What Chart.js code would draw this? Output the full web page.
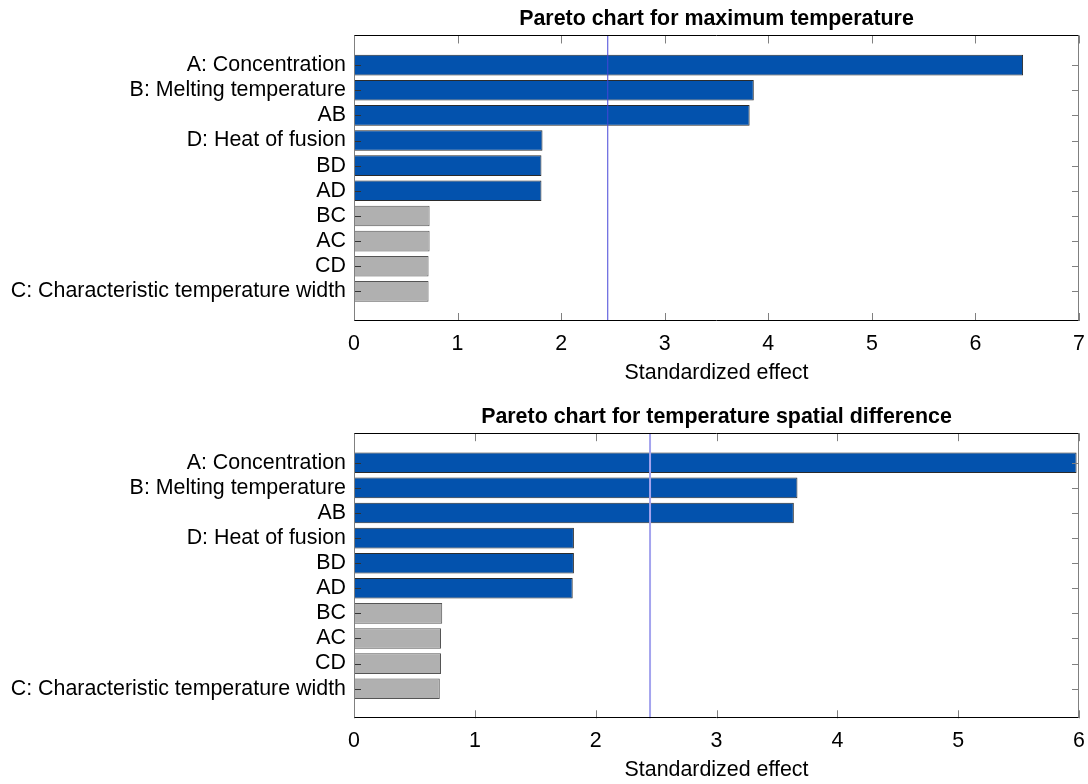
<!DOCTYPE html>
<html>
<head>
<meta charset="utf-8">
<script src="https://cdn.jsdelivr.net/npm/chart.js@4/dist/chart.umd.min.js"></script>
<style>
  body { margin: 0; background: #fff; }
  .panel { position: absolute; left: 0; width: 1088px; height: 392px; }
</style>
</head>
<body>
<div class="panel" style="top:0"><canvas id="maxTempChart" width="1088" height="392"></canvas></div>
<div class="panel" style="top:392px"><canvas id="spatialDiffChart" width="1088" height="392"></canvas></div>
<script>
// terms, sorted by effect size (largest on top)
const factors = [
  'A: Concentration', 'B: Melting temperature', 'AB', 'D: Heat of fusion',
  'BD', 'AD', 'BC', 'AC', 'CD', 'C: Characteristic temperature width'
];
const maxTempEffects = [6.46, 3.86, 3.82, 1.82, 1.81, 1.81, 0.73, 0.73, 0.72, 0.72];
const spatialDiffEffects = [5.98, 3.67, 3.64, 1.82, 1.82, 1.81, 0.73, 0.72, 0.72, 0.71];
const maxTempTicks = [0, 1, 2, 3, 4, 5, 6, 7];
const spatialDiffTicks = [0, 1, 2, 3, 4, 5, 6];
const criticalValue = 2.45;   // reference line
const blueTerms = 6;          // first six terms are drawn blue
const yPad = 1.18;            // empty space above first / below last bar, in bar slots

Chart.defaults.font.family = '"Liberation Sans", Arial, sans-serif';
Chart.defaults.font.size = 21.4;
Chart.defaults.color = '#000';

// MATLAB-like box: inward ticks, border, reference line
const boxPlugin = {
  id: 'matlabBox',
  afterDatasetsDraw(chart, args, opts) {
    const { ctx, chartArea: a, scales: { x, y } } = chart;
    ctx.save();

    const tx = x.getPixelForValue(opts.threshold);
    ctx.strokeStyle = opts.lineColor;
    ctx.lineWidth = opts.lineWidth;
    ctx.beginPath();
    ctx.moveTo(tx, a.top);
    ctx.lineTo(tx, a.bottom);
    ctx.stroke();

    ctx.lineWidth = 1;
    ctx.strokeStyle = '#808080';
    x.ticks.forEach(t => {
      const px = Math.round(x.getPixelForValue(t.value)) + 0.5;
      ctx.beginPath();
      ctx.moveTo(px, a.bottom); ctx.lineTo(px, a.bottom - 8);
      ctx.moveTo(px, a.top); ctx.lineTo(px, a.top + 8);
      ctx.stroke();
    });
    y.ticks.forEach(t => {
      const py = Math.round(y.getPixelForValue(t.value)) + 0.5;
      ctx.strokeStyle = '#333';
      ctx.beginPath(); ctx.moveTo(a.left, py); ctx.lineTo(a.left + 7, py); ctx.stroke();
      ctx.strokeStyle = '#808080';
      ctx.beginPath(); ctx.moveTo(a.right, py); ctx.lineTo(a.right - 7, py); ctx.stroke();
    });

    const l = Math.round(a.left) + 0.5, r = Math.round(a.right) - 0.5;
    const t = Math.round(a.top) + 0.5, b = Math.round(a.bottom) - 0.5;
    ctx.strokeStyle = '#808080';
    ctx.beginPath();
    ctx.moveTo(l, t); ctx.lineTo(l, b);
    ctx.moveTo(r, t); ctx.lineTo(r, b);
    ctx.stroke();
    ctx.strokeStyle = '#000';
    ctx.beginPath();
    ctx.moveTo(l, t); ctx.lineTo(r, t);
    ctx.moveTo(l, b); ctx.lineTo(r, b);
    ctx.stroke();
    ctx.restore();
  }
};

function makePareto(id, title, effects, xTicks, lay) {
  const yMin = -yPad, yMax = factors.length - 1 + yPad;
  new Chart(document.getElementById(id), {
    type: 'bar',
    data: {
      datasets: [{
        data: effects.map((v, i) => ({ x: v, y: i })),
        backgroundColor: effects.map((v, i) => i < blueTerms ? '#0352ad' : '#b0b0b0'),
        borderColor: effects.map((v, i) => i < blueTerms ? '#2b2b2b' : '#555'),
        borderWidth: 1,
        categoryPercentage: 1,
        barPercentage: 0.82
      }]
    },
    options: {
      indexAxis: 'y',
      responsive: false,
      animation: false,
      layout: { padding: { left: 0, right: 9, top: 0, bottom: 0 } },
      plugins: {
        legend: { display: false },
        tooltip: { enabled: false },
        title: {
          display: true,
          text: title,
          fullSize: false,
          color: '#000',
          font: { size: 21.4, weight: 'bold' },
          padding: { top: lay.titleTop, bottom: lay.titleBottom }
        },
        matlabBox: { threshold: criticalValue, lineColor: lay.lineColor, lineWidth: lay.lineWidth }
      },
      scales: {
        x: {
          type: 'linear',
          min: xTicks[0],
          max: xTicks[xTicks.length - 1],
          afterBuildTicks: s => { s.ticks = xTicks.map(v => ({ value: v })); },
          afterFit: s => { s.height = lay.xHeight; s.paddingLeft = 0; s.paddingRight = 0; },
          grid: { display: false, drawTicks: false },
          border: { display: false },
          ticks: { padding: 10, color: '#000' },
          title: {
            display: true,
            text: 'Standardized effect',
            color: '#000',
            padding: { top: 0, bottom: lay.xTitleBottom }
          }
        },
        y: {
          type: 'linear',
          reverse: true,
          offset: false,
          bounds: 'data',
          min: yMin,
          max: yMax,
          afterDataLimits: s => { s.min = yMin; s.max = yMax; },
          afterBuildTicks: s => {
            s.ticks = factors.map((f, i) => ({ value: i }));
            s.min = yMin; s.max = yMax;
          },
          afterFit: s => { s.width = 354; s.paddingTop = 0; s.paddingBottom = 0; },
          grid: { display: false, drawTicks: false, offset: false },
          border: { display: false },
          ticks: { padding: 8, autoSkip: false, color: '#000', callback: v => factors[v] }
        }
      }
    },
    plugins: [boxPlugin]
  });
}

makePareto('maxTempChart', 'Pareto chart for maximum temperature', maxTempEffects, maxTempTicks,
  { titleTop: 6, titleBottom: 3.8, xHeight: 71, xTitleBottom: 6, lineColor: '#4646d8', lineWidth: 1 });
makePareto('spatialDiffChart', 'Pareto chart for temperature spatial difference', spatialDiffEffects, spatialDiffTicks,
  { titleTop: 12.4, titleBottom: 3.1, xHeight: 65.7, xTitleBottom: 1.2, lineColor: '#a4a4ee', lineWidth: 2 });
</script>
</body>
</html>
